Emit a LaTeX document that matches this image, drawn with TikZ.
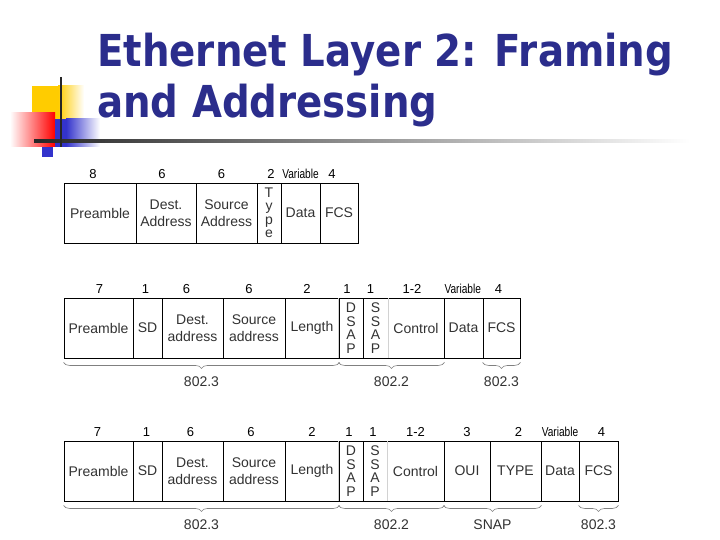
\documentclass[tikz,border=0pt]{standalone}
\usepackage{fontspec}
\setmainfont{Liberation Sans}
\newfontfamily\ttlfont[FakeStretch=0.88]{DejaVu Sans}
\usetikzlibrary{positioning,decorations.pathreplacing}
\definecolor{ttlblue}{RGB}{43,45,140}
\definecolor{logoyel}{RGB}{255,204,0}
\definecolor{logoblu}{RGB}{51,51,204}
\definecolor{txtgray}{RGB}{50,50,50}

\begin{document}
\begin{tikzpicture}[x=1pt, y=-1pt, every node/.style={font=\fontsize{14}{17}\selectfont, text=txtgray}, fld/.style={draw=black, line width=0.9pt, minimum height=60pt, inner sep=0pt, align=center}, vlet/.style={font=\fontsize{14}{13.5}\selectfont}, num/.style={font=\fontsize{13}{13}\selectfont, text=black, inner sep=0pt}, varnum/.style={num, xscale=0.78, transform shape}, brc/.style={draw=gray, line width=0.6pt, decorate, decoration={brace, mirror, amplitude=6pt}}, lbl/.style={inner sep=0pt}, ttl/.style={font=\ttlfont\bfseries\fontsize{44}{44}\selectfont, text=ttlblue, inner sep=0pt, anchor=base west}, faint/.style={draw=gray!35, line width=0.9pt}]
	\useasboundingbox (0,0) rectangle (720,540);
	% logo and rule
	\fill[logoyel] (32,86) rectangle (58,119); \shade[left color=logoyel, right color=white] (58,86) rectangle (84,119);
	\shade[left color=white, right color=red] (10,113) rectangle (55,147);
	\fill[logoblu] (55,119) rectangle (66,147); \shade[left color=logoblu, right color=white] (66,119) rectangle (100,147);
	\shade[left color=black!85, middle color=gray!55, right color=white] (34,140) rectangle (690,143);
	\draw[black!85, line width=2pt] (61,77) -- (61,147);
	\fill[logoblu] (42,147) rectangle (53,157);
	\node[ttl] (ttl1) at (97,67) {Ethernet Layer 2: Framing};
	\node[ttl] (ttl2) at (97,118) {and Addressing};
	% frame 1
	\node[fld, minimum width=72pt] (a-pre) at (100,213) {Preamble}; \node[fld, minimum width=60pt] (a-dst) at (166,213) {Dest.\\Address}; \node[fld, minimum width=61pt] (a-src) at (226.5,213) {Source\\Address};
	\node[fld, vlet, minimum width=24pt] (a-typ) at (269,213) {T\\y\\p\\e}; \node[fld, minimum width=39pt] (a-dat) at (300.5,213) {Data}; \node[fld, minimum width=38pt] (a-fcs) at (339,213) {FCS};
	\node[num, above=4pt of a-pre, xshift=-7pt] (a-n1) {8}; \node[num, above=4pt of a-dst, xshift=-4pt] (a-n2) {6}; \node[num, above=4pt of a-src, xshift=-5pt] (a-n3) {6};
	\node[num, above=4pt of a-typ, xshift=2pt] (a-n4) {2}; \node[varnum, above=4pt of a-dat] (a-n5) {Variable}; \node[num, above=4pt of a-fcs, xshift=-7pt] (a-n6) {4};
	% frame 2
	\node[fld, minimum width=69pt] (b-pre) at (98.5,328) {Preamble}; \node[fld, minimum width=29pt] (b-sd) at (147.5,328) {SD}; \node[fld, minimum width=61pt] (b-dst) at (192.5,328) {Dest.\\address};
	\node[fld, minimum width=62pt] (b-src) at (254,328) {Source\\address}; \node[fld, minimum width=54pt] (b-len) at (312,328) {Length}; \node[fld, vlet, minimum width=24pt] (b-dsap) at (351,328) {D\\S\\A\\P};
	\node[fld, vlet, minimum width=25pt] (b-ssap) at (375.5,328) {S\\S\\A\\P}; \node[fld, minimum width=56pt] (b-ctl) at (416,328) {Control}; \node[fld, minimum width=39pt] (b-dat) at (463.5,328) {Data}; \node[fld, minimum width=37pt] (b-fcs) at (501.5,328) {FCS};
	\draw[faint] (b-dsap.north west) -- (b-dsap.south west); \draw[faint] (b-ssap.north east) -- (b-ssap.south east);
	\node[num, above=4pt of b-pre, xshift=1pt] (b-n1) {7}; \node[num, above=4pt of b-sd, xshift=-2pt] (b-n2) {1}; \node[num, above=4pt of b-dst, xshift=-6pt] (b-n3) {6}; \node[num, above=4pt of b-src, xshift=-5pt] (b-n4) {6};
	\node[num, above=4pt of b-len, xshift=-5pt] (b-n5) {2}; \node[num, above=4pt of b-dsap, xshift=-4pt] (b-n6) {1}; \node[num, above=4pt of b-ssap, xshift=-5pt] (b-n7) {1}; \node[num, above=4pt of b-ctl, xshift=-4pt] (b-n8) {1-2};
	\node[varnum, above=4pt of b-dat, xshift=-1pt] (b-n9) {Variable}; \node[num, above=4pt of b-fcs, xshift=-3pt] (b-n10) {4};
	\draw[brc] ([yshift=-4pt]b-pre.south west) -- ([yshift=-4pt]b-len.south east) node[lbl, midway, below=14pt] (b-b1) {802.3};
	\draw[brc] ([yshift=-4pt]b-dsap.south west) -- ([yshift=-4pt]b-ctl.south east) node[lbl, midway, below=14pt] (b-b2) {802.2};
	\draw[brc] ([yshift=-4pt]b-fcs.south west) -- ([yshift=-4pt]b-fcs.south east) node[lbl, midway, below=14pt] (b-b3) {802.3};
	% frame 3
	\node[fld, minimum width=69pt] (c-pre) at (98.5,471) {Preamble}; \node[fld, minimum width=29pt] (c-sd) at (147.5,471) {SD}; \node[fld, minimum width=61pt] (c-dst) at (192.5,471) {Dest.\\address};
	\node[fld, minimum width=62pt] (c-src) at (254,471) {Source\\address}; \node[fld, minimum width=54pt] (c-len) at (312,471) {Length}; \node[fld, vlet, minimum width=24pt] (c-dsap) at (351,471) {D\\S\\A\\P};
	\node[fld, vlet, minimum width=24pt] (c-ssap) at (375,471) {S\\S\\A\\P}; \node[fld, minimum width=57pt] (c-ctl) at (415.5,471) {Control}; \node[fld, minimum width=46pt] (c-oui) at (467,471) {OUI};
	\node[fld, minimum width=51pt] (c-typ) at (515.5,471) {TYPE}; \node[fld, minimum width=38pt] (c-dat) at (560,471) {Data}; \node[fld, minimum width=39pt] (c-fcs) at (598.5,471) {FCS};
	\draw[faint] (c-dsap.north west) -- (c-dsap.south west); \draw[faint] (c-ssap.north east) -- (c-ssap.south east);
	\node[num, above=4pt of c-pre, xshift=-1pt] (c-n1) {7}; \node[num, above=4pt of c-sd, xshift=-1pt] (c-n2) {1}; \node[num, above=4pt of c-dst, xshift=-2pt] (c-n3) {6}; \node[num, above=4pt of c-src, xshift=-3pt] (c-n4) {6};
	\node[num, above=4pt of c-len] (c-n5) {2}; \node[num, above=4pt of c-dsap, xshift=-2pt] (c-n6) {1}; \node[num, above=4pt of c-ssap, xshift=-2pt] (c-n7) {1}; \node[num, above=4pt of c-ctl] (c-n8) {1-2};
	\node[num, above=4pt of c-oui] (c-n9) {3}; \node[num, above=4pt of c-typ, xshift=3pt] (c-n10) {2}; \node[varnum, above=4pt of c-dat] (c-n11) {Variable}; \node[num, above=4pt of c-fcs, xshift=3pt] (c-n12) {4};
	\draw[brc] ([yshift=-4pt]c-pre.south west) -- ([yshift=-4pt]c-len.south east) node[lbl, midway, below=14pt] (c-b1) {802.3};
	\draw[brc] ([yshift=-4pt]c-dsap.south west) -- ([yshift=-4pt]c-ctl.south east) node[lbl, midway, below=14pt] (c-b2) {802.2};
	\draw[brc] ([yshift=-4pt]c-oui.south west) -- ([yshift=-4pt]c-typ.south east) node[lbl, midway, below=14pt] (c-b3) {SNAP};
	\draw[brc] ([yshift=-4pt]c-fcs.south west) -- ([yshift=-4pt]c-fcs.south east) node[lbl, midway, below=14pt] (c-b4) {802.3};
\end{tikzpicture}
\end{document}
